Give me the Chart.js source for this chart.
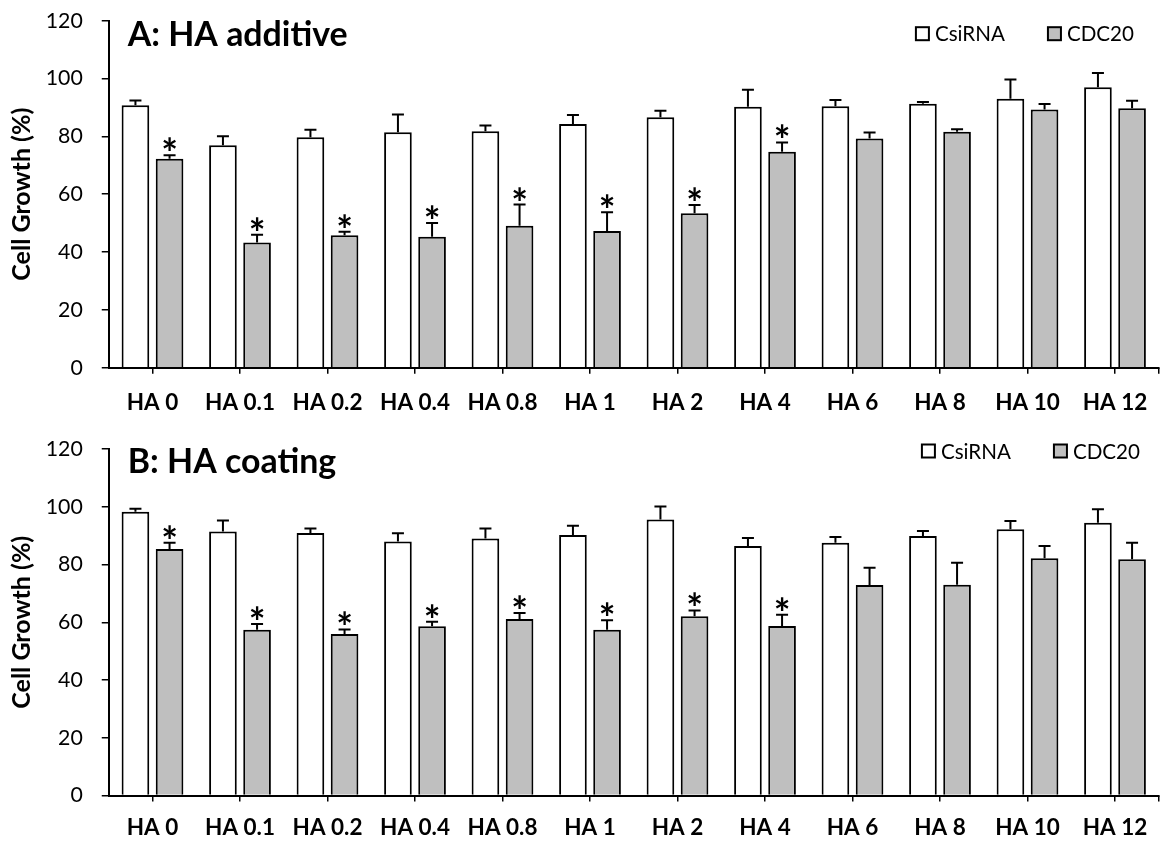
<!DOCTYPE html>
<html>
<head>
<meta charset="utf-8">
<script src="https://cdn.jsdelivr.net/npm/chart.js@4.4.1/dist/chart.umd.min.js"></script>
<style>
  body { margin: 0; background: #fff; }
  #wrap { width: 1164px; height: 846px; }
  .panel { position: relative; width: 1164px; }
</style>
</head>
<body>
<div id="wrap">
  <div class="panel" style="height:427px"><canvas id="chartA"></canvas></div>
  <div class="panel" style="height:419px"><canvas id="chartB"></canvas></div>
</div>
<script>
var categories = ['HA 0', 'HA 0.1', 'HA 0.2', 'HA 0.4', 'HA 0.8', 'HA 1', 'HA 2', 'HA 4', 'HA 6', 'HA 8', 'HA 10', 'HA 12'];
var seriesNames = ['CsiRNA', 'CDC20'];
var yTicks = [0, 20, 40, 60, 80, 100, 120];

// A: HA additive
var additiveCsiRNA    = [90.8, 76.9, 79.7, 81.4, 81.8, 84.3, 86.6, 90.2, 90.4, 91.3, 93.0, 97.0];
var additiveCsiRNAErr = [1.6, 3.1, 2.6, 6.2, 2.0, 3.1, 2.3, 5.9, 2.2, 0.6, 6.7, 4.9];
var additiveCDC20     = [72.3, 43.3, 45.8, 45.3, 49.1, 47.3, 53.4, 74.7, 79.3, 81.6, 89.3, 89.7];
var additiveCDC20Err  = [1.2, 2.7, 1.2, 4.7, 7.3, 6.5, 2.9, 3.2, 2.0, 0.9, 1.9, 2.6];
var additiveStars     = [1, 1, 1, 1, 1, 1, 1, 1, 0, 0, 0, 0];

// B: HA coating
var coatingCsiRNA     = [98.3, 91.4, 90.9, 88.0, 89.0, 90.2, 95.6, 86.4, 87.5, 89.9, 92.2, 94.5];
var coatingCsiRNAErr  = [1.0, 3.8, 1.6, 2.8, 3.5, 3.2, 4.5, 2.8, 2.0, 1.7, 2.9, 4.6];
var coatingCDC20      = [85.4, 57.4, 55.9, 58.6, 61.1, 57.4, 62.1, 58.7, 72.9, 73.0, 82.2, 81.8];
var coatingCDC20Err   = [2.1, 2.0, 1.6, 1.6, 2.1, 3.3, 2.0, 3.9, 6.0, 7.6, 4.2, 5.7];
var coatingStars      = [1, 1, 1, 1, 1, 1, 1, 1, 0, 0, 0, 0];

var FONT = 'Lato, "Open Sans", sans-serif';

// pick font sizes so the text widths come out like the original (Calibri-ish)
var mctx = document.createElement('canvas').getContext('2d');
function fitSize(text, weight, width) {
  mctx.font = weight + ' 100px ' + FONT;
  return Math.round(1000 * width / mctx.measureText(text).width) / 10;
}
var titleSize  = fitSize('A: HA additive', 'bold', 220);
var yTitleSize = fitSize('Cell Growth (%)', 'bold', 173);
var xTickSize  = fitSize('HA 0.1', 'bold', 70);
var yTickSize  = fitSize('120', 'normal', 37);
var legendSize = fitSize('CsiRNA', 'normal', 70);
mctx.font = 'bold 100px ' + FONT;
var sm = mctx.measureText('*');
var starSize = 100 * 13 / (sm.actualBoundingBoxLeft + sm.actualBoundingBoxRight);

// error bars, significance stars, panel title, legend
var extras = {
  id: 'extras',
  afterDatasetsDraw: function(chart, args, opts) {
    var ctx = chart.ctx;
    var y = chart.scales.y;
    var area = chart.chartArea;
    ctx.save();
    ctx.strokeStyle = '#000';
    ctx.fillStyle = '#000';
    ctx.lineWidth = 2;
    chart.data.datasets.forEach(function(ds, i) {
      var meta = chart.getDatasetMeta(i);
      meta.data.forEach(function(bar, j) {
        var capY = y.getPixelForValue(ds.data[j] + ds.errors[j]);
        ctx.beginPath();
        ctx.moveTo(bar.x, bar.y);
        ctx.lineTo(bar.x, capY);
        ctx.moveTo(bar.x - 6, capY);
        ctx.lineTo(bar.x + 6, capY);
        ctx.stroke();
        if (ds.stars && ds.stars[j]) {
          ctx.font = 'bold ' + starSize + 'px ' + FONT;
          ctx.textAlign = 'center';
          ctx.textBaseline = 'alphabetic';
          var m = ctx.measureText('*');
          var cy = capY - 11;
          ctx.fillText('*', bar.x, cy + (m.actualBoundingBoxAscent - m.actualBoundingBoxDescent) / 2);
        }
      });
    });

    // little closing tick at the right end of the x axis
    ctx.lineWidth = 1.5;
    ctx.beginPath();
    ctx.moveTo(area.right, area.bottom);
    ctx.lineTo(area.right, area.bottom + 6);
    ctx.stroke();

    // panel title
    ctx.font = 'bold ' + titleSize + 'px ' + FONT;
    ctx.textAlign = 'left';
    ctx.textBaseline = 'alphabetic';
    var cap = ctx.measureText('H').actualBoundingBoxAscent;
    ctx.fillText(opts.title, area.left + 19, area.top + opts.titleDy + cap / 2);

    // legend, right aligned
    ctx.font = legendSize + 'px ' + FONT;
    ctx.textBaseline = 'middle';
    var box = 13, gap = 6, spacing = 43;
    var total = 0;
    chart.data.datasets.forEach(function(ds, i) {
      total += box + gap + ctx.measureText(ds.label).width + (i ? spacing : 0);
    });
    var x = opts.legendRight - total;
    var ly = area.top + opts.legendDy;
    chart.data.datasets.forEach(function(ds) {
      ctx.fillStyle = ds.backgroundColor;
      ctx.fillRect(x, ly - box / 2, box, box);
      ctx.lineWidth = 2;
      ctx.strokeStyle = ds.borderColor;
      ctx.strokeRect(x, ly - box / 2, box, box);
      ctx.fillStyle = '#000';
      ctx.fillText(ds.label, x + box + gap, ly + 1);
      x += box + gap + ctx.measureText(ds.label).width + spacing;
    });
    ctx.restore();
  }
};

function buildChart(id, title, csi, csiErr, cdc, cdcErr, stars, layout) {
  return new Chart(document.getElementById(id), {
    type: 'bar',
    data: {
      labels: categories,
      datasets: [{
        label: seriesNames[0],
        data: csi,
        errors: csiErr,
        backgroundColor: '#ffffff',
        borderColor: '#000000',
        borderWidth: 2,
        categoryPercentage: 0.78,
        barPercentage: 0.81
      }, {
        label: seriesNames[1],
        data: cdc,
        errors: cdcErr,
        stars: stars,
        backgroundColor: '#bfbfbf',
        borderColor: '#000000',
        borderWidth: 2,
        categoryPercentage: 0.78,
        barPercentage: 0.81
      }]
    },
    options: {
      responsive: true,
      maintainAspectRatio: false,
      animation: false,
      layout: { padding: { top: layout.top, right: 5.25, left: 0, bottom: 0 } },
      scales: {
        x: {
          grid: { offset: false, drawOnChartArea: false, tickLength: 6, color: '#000', lineWidth: 1.5 },
          border: { color: '#000', width: 2 },
          ticks: {
            color: '#000',
            padding: layout.xLabelGap - 6 - 0.56 * xTickSize,
            font: { family: FONT, size: xTickSize, weight: 'bold' }
          },
          afterFit: function(s) {
            s.height = layout.xHeight;
            s.paddingLeft = 0;
            s.paddingRight = 0;
          }
        },
        y: {
          min: 0,
          max: 120,
          afterBuildTicks: function(s) { s.ticks = yTicks.map(function(v) { return { value: v }; }); },
          grid: { drawOnChartArea: false, tickLength: 7, color: '#000', lineWidth: 1.5 },
          border: { color: '#000', width: 2 },
          ticks: { color: '#000', padding: 19, font: { family: FONT, size: yTickSize } },
          title: {
            display: true,
            text: 'Cell Growth (%)',
            color: '#000',
            padding: { top: Math.max(0, 22 - 0.6 * yTitleSize), bottom: 0 },
            font: { family: FONT, size: yTitleSize, weight: 'bold' }
          },
          afterFit: function(s) {
            s.width = 108.75;
            s.paddingTop = 0;
            s.paddingBottom = 0;
          }
        }
      },
      plugins: {
        legend: { display: false },
        tooltip: { enabled: false },
        extras: { title: title, titleDy: layout.titleDy, legendDy: layout.legendDy, legendRight: layout.legendRight }
      }
    },
    plugins: [extras]
  });
}

buildChart('chartA', 'A: HA additive', additiveCsiRNA, additiveCsiRNAErr, additiveCDC20, additiveCDC20Err, additiveStars,
  { top: 20.7, xHeight: 59.3, xLabelGap: 34.5, titleDy: 13, legendDy: 13, legendRight: 1134 });
buildChart('chartB', 'B: HA coating', coatingCsiRNA, coatingCsiRNAErr, coatingCDC20, coatingCDC20Err, coatingStars,
  { top: 22, xHeight: 50.5, xLabelGap: 31, titleDy: 11, legendDy: 2, legendRight: 1140 });
</script>
</body>
</html>
